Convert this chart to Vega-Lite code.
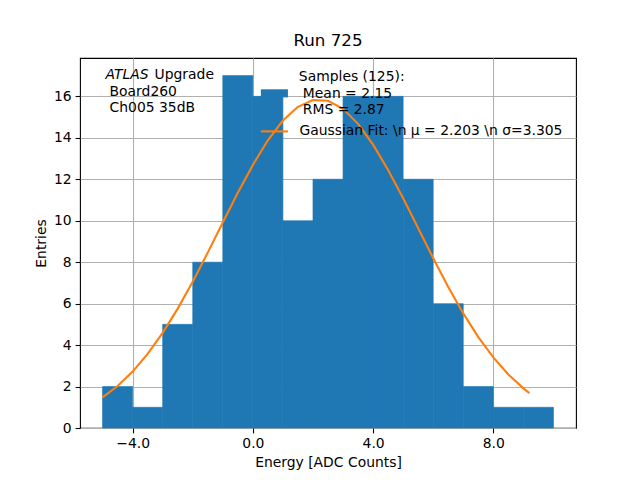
{
  "$schema": "https://vega.github.io/schema/vega-lite/v6.json",
  "width": 496,
  "height": 370,
  "autosize": {"type": "none"},
  "padding": {"left": 80, "top": 58, "right": 64, "bottom": 52},
  "background": "white",
  "title": {"text": "Run 725", "fontSize": 16.7, "fontWeight": "normal", "font": "DejaVu Sans", "offset": 8, "color": "black"},
  "config": {
    "font": "DejaVu Sans",
    "view": {"stroke": "black", "strokeWidth": 1.1},
    "axis": {
      "domain": false,
      "grid": true,
      "gridColor": "#b0b0b0",
      "gridWidth": 1.1,
      "zindex": 1,
      "tickColor": "black",
      "tickSize": 4.9,
      "tickWidth": 1.1,
      "labelFontSize": 13.9,
      "labelColor": "black",
      "labelPadding": 4,
      "titleFontSize": 13.9,
      "titleFontWeight": "normal",
      "titleColor": "black",
      "titlePadding": 5
    },
    "text": {"align": "left", "baseline": "middle", "fontSize": 13.9, "color": "black"}
  },
  "datasets": {
    "hist": [
      {"start": -5, "end": -4, "count": 2},
      {"start": -4, "end": -3, "count": 1},
      {"start": -3, "end": -2, "count": 5},
      {"start": -2, "end": -1, "count": 8},
      {"start": -1, "end": 0, "count": 17},
      {"start": 0, "end": 1, "count": 16},
      {"start": 1, "end": 2, "count": 10},
      {"start": 2, "end": 3, "count": 12},
      {"start": 3, "end": 4, "count": 16},
      {"start": 4, "end": 5, "count": 16},
      {"start": 5, "end": 6, "count": 12},
      {"start": 6, "end": 7, "count": 6},
      {"start": 7, "end": 8, "count": 2},
      {"start": 8, "end": 9, "count": 1},
      {"start": 9, "end": 10, "count": 1}
    ],
    "fit": [
      {"x": -5, "y": 1.474},
      {"x": -4.5, "y": 2.027},
      {"x": -4, "y": 2.723},
      {"x": -3.5, "y": 3.577},
      {"x": -3, "y": 4.59},
      {"x": -2.5, "y": 5.759},
      {"x": -2, "y": 7.061},
      {"x": -1.5, "y": 8.461},
      {"x": -1, "y": 9.911},
      {"x": -0.5, "y": 11.345},
      {"x": 0, "y": 12.692},
      {"x": 0.5, "y": 13.88},
      {"x": 1, "y": 14.834},
      {"x": 1.5, "y": 15.495},
      {"x": 2, "y": 15.82},
      {"x": 2.5, "y": 15.786},
      {"x": 3, "y": 15.396},
      {"x": 3.5, "y": 14.675},
      {"x": 4, "y": 13.672},
      {"x": 4.5, "y": 12.449},
      {"x": 5, "y": 11.079},
      {"x": 5.5, "y": 9.637},
      {"x": 6, "y": 8.193},
      {"x": 6.5, "y": 6.807},
      {"x": 7, "y": 5.528},
      {"x": 7.5, "y": 4.388},
      {"x": 8, "y": 3.403},
      {"x": 8.5, "y": 2.581},
      {"x": 9, "y": 1.913},
      {"x": 9.2, "y": 1.686}
    ]
  },
  "layer": [
    {
      "data": {"name": "hist"},
      "mark": {"type": "rect", "color": "#1f77b4", "stroke": "#1f77b4", "strokeWidth": 0.6},
      "encoding": {
        "x": {
          "field": "start", "type": "quantitative",
          "scale": {"domain": [-5.75, 10.75], "nice": false, "zero": false},
          "axis": {"values": [-4, 0, 4, 8], "format": ".1f", "title": "Energy [ADC Counts]"}
        },
        "x2": {"field": "end"},
        "y": {
          "field": "count", "type": "quantitative",
          "scale": {"domain": [0, 17.85], "nice": false},
          "axis": {"values": [0, 2, 4, 6, 8, 10, 12, 14, 16], "title": "Entries"}
        },
        "y2": {"datum": 0}
      }
    },
    {
      "data": {"name": "fit"},
      "mark": {"type": "line", "color": "#ff7f0e", "strokeWidth": 2.1},
      "encoding": {
        "x": {"field": "x", "type": "quantitative"},
        "y": {"field": "y", "type": "quantitative"}
      }
    },
    {
      "data": {"values": [{"label": "ATLAS"}]},
      "mark": {"type": "text", "fontStyle": "italic"},
      "encoding": {"x": {"datum": -4.9}, "y": {"datum": 17.03}, "text": {"field": "label"}}
    },
    {
      "data": {"values": [{"label": "Upgrade"}]},
      "mark": {"type": "text"},
      "encoding": {"x": {"datum": -3.27}, "y": {"datum": 17.03}, "text": {"field": "label"}}
    },
    {
      "data": {"values": [{"label": "Board260"}]},
      "mark": {"type": "text", "dx": 4},
      "encoding": {"x": {"datum": -4.9}, "y": {"datum": 16.19}, "text": {"field": "label"}}
    },
    {
      "data": {"values": [{"label": "Ch005 35dB"}]},
      "mark": {"type": "text", "dx": 4},
      "encoding": {"x": {"datum": -4.9}, "y": {"datum": 15.42}, "text": {"field": "label"}}
    },
    {
      "data": {"values": [{}]},
      "mark": {"type": "rect", "color": "#1f77b4"},
      "encoding": {"x": {"datum": 0.267}, "x2": {"datum": 1.167}, "y": {"datum": 16.34}, "y2": {"datum": 15.95}}
    },
    {
      "data": {"values": [{}]},
      "mark": {"type": "rule", "color": "#ff7f0e", "strokeWidth": 2.1},
      "encoding": {"x": {"datum": 0.267}, "x2": {"datum": 1.167}, "y": {"datum": 14.31}}
    },
    {
      "data": {"values": [{"label": "Samples (125):"}]},
      "mark": {"type": "text"},
      "encoding": {"x": {"datum": 1.53}, "y": {"datum": 16.93}, "text": {"field": "label"}}
    },
    {
      "data": {"values": [{"label": "Mean = 2.15"}]},
      "mark": {"type": "text", "dx": 4},
      "encoding": {"x": {"datum": 1.53}, "y": {"datum": 16.12}, "text": {"field": "label"}}
    },
    {
      "data": {"values": [{"label": "RMS = 2.87"}]},
      "mark": {"type": "text", "dx": 4},
      "encoding": {"x": {"datum": 1.53}, "y": {"datum": 15.35}, "text": {"field": "label"}}
    },
    {
      "data": {"values": [{"label": "Gaussian Fit: \\n μ = 2.203 \\n σ=3.305"}]},
      "mark": {"type": "text"},
      "encoding": {"x": {"datum": 1.55}, "y": {"datum": 14.31}, "text": {"field": "label"}}
    }
  ]
}
